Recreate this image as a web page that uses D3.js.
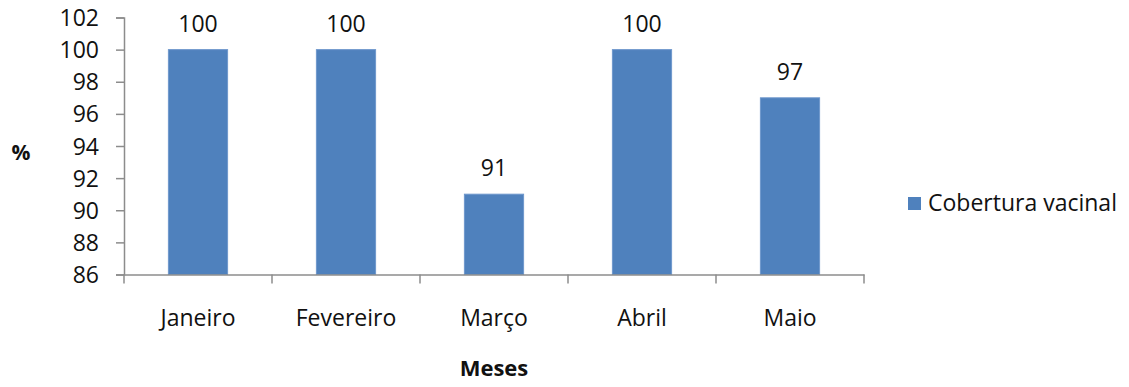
<!DOCTYPE html>
<html><head><meta charset="utf-8">
<script src="https://cdn.jsdelivr.net/npm/d3@7"></script>
<style>body{margin:0;background:#fff}svg{display:block}text{font-family:"Open Sans",sans-serif;fill:#111}</style>
</head><body><svg id="c" width="1129" height="387"></svg>
<script>
const categories = ["Janeiro","Fevereiro","Março","Abril","Maio"];
const values = [100,100,91,100,97];
const yTicks = [86,88,90,92,94,96,98,100,102];
const seriesName = "Cobertura vacinal";

(function(){
const svg = d3.select("#c");
const mLeft = 124, mRight = 864, mTop = 17.5, mBottom = 274.5;
const x = d3.scaleBand().domain(categories).range([mLeft, mRight]).padding(0);
const y = d3.scaleLinear().domain([86,102]).range([mBottom, mTop]);
const axisColor = "#8c8c8c";
const fs = 23;

// y axis
const ya = svg.append("g").attr("transform",`translate(${mLeft},0)`)
  .call(d3.axisLeft(y).tickValues(yTicks).tickSize(8).tickPadding(17).tickFormat(d3.format("d")));
ya.select(".domain").attr("stroke",axisColor).attr("stroke-width",1.5);
ya.selectAll(".tick line").attr("stroke",axisColor).attr("stroke-width",1.5);
ya.selectAll(".tick text").attr("font-size",fs).attr("font-family","Open Sans").attr("fill","#111").attr("dy","0.35em");

// bars
const bw = x.bandwidth()*0.4;
svg.append("g").selectAll("rect").data(values).join("rect")
  .attr("x",(d,i)=>x(categories[i])+x.bandwidth()/2-bw/2)
  .attr("y",d=>y(d))
  .attr("width",bw)
  .attr("height",d=>y(86)-y(d))
  .attr("fill","#4F81BD")
  .attr("stroke","#6E97CC").attr("stroke-width",1);

// data labels
svg.append("g").selectAll("text").data(values).join("text")
  .attr("x",(d,i)=>x(categories[i])+x.bandwidth()/2)
  .attr("y",d=>y(d)-18)
  .attr("text-anchor","middle").attr("font-size",fs)
  .text(d=>d);

// x axis
const xa = svg.append("g").attr("transform",`translate(0,${mBottom})`)
  .call(d3.axisBottom(x).tickSize(0).tickPadding(0));
xa.select(".domain").attr("stroke",axisColor).attr("stroke-width",1.5);
xa.selectAll(".tick text").attr("font-size",fs).attr("font-family","Open Sans").attr("fill","#111").attr("y",51).attr("dy",0);
const bounds = categories.map(c=>x(c)).concat([mRight]);
svg.append("g").selectAll("line").data(bounds).join("line")
  .attr("x1",d=>d).attr("x2",d=>d).attr("y1",mBottom).attr("y2",mBottom+9)
  .attr("stroke",axisColor).attr("stroke-width",1.5);

// axis titles
svg.append("text").attr("x",21).attr("y",160).attr("text-anchor","middle")
  .attr("font-size",21).attr("font-weight","bold").text("%");
svg.append("text").attr("x",(mLeft+mRight)/2).attr("y",376).attr("text-anchor","middle")
  .attr("font-size",22).attr("font-weight","bold").text("Meses");

// legend
const lg = svg.append("g").attr("transform","translate(908,197)");
lg.append("rect").attr("width",13).attr("height",13).attr("fill","#4F81BD");
lg.append("text").attr("x",20).attr("y",14).attr("font-size",fs).text(seriesName);
})();
</script></body></html>
